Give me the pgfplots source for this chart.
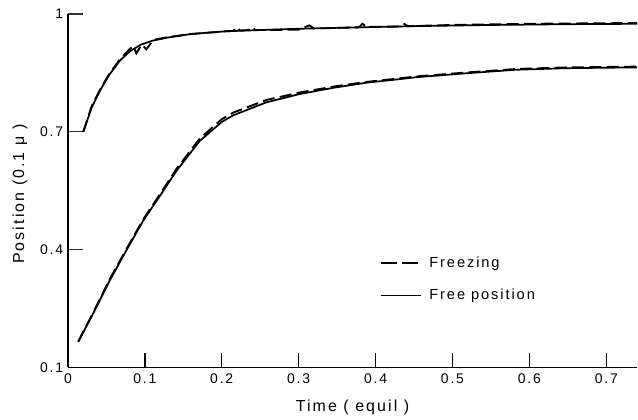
\documentclass[border=0pt]{standalone}
\usepackage{pgfplots}
\pgfplotsset{compat=1.18}
\usepackage{fontspec}
\setmainfont[LetterSpace=13]{Liberation Sans}
\begin{document}
\begin{tikzpicture}
\begin{axis}[
  scale only axis,
  width=427.5pt, height=265.5pt,
  xmin=0, xmax=0.74, ymin=0.1, ymax=1,
  axis x line*=bottom, axis y line*=left,
  axis line style={line width=1.1pt, black},
  xtick={0,0.1,0.2,0.3,0.4,0.5,0.6,0.7},
  xticklabels={0,0.1,0.2,0.3,0.4,0.5,0.6,0.7},
  ytick={0.1,0.4,0.7,1},
  yticklabels={0.1,0.4,0.7,1},
  xtick align=inside, ytick align=inside,
  major tick length=11pt,
  xtick style={draw=black, line width=1pt},
  ytick style={draw=black!80, line width=0.8pt},
  /pgf/number format/assume math mode=true,
  tick label style={font=\fontsize{10.5}{12}\selectfont},
  label style={font=\fontsize{12}{14}\selectfont},
  xticklabel style={yshift=-1pt},
  xlabel={Time ( equil )},
  ylabel={Position (0.1 μ )},
  xlabel style={at={(axis description cs:0.5,-0.113)}, anchor=center},
  ylabel style={at={(axis description cs:-0.084,0.49)}, anchor=center},
  legend style={draw=none, fill=none, at={(axis cs:0.40,0.325)}, anchor=west,
    font=\fontsize{11}{12}\selectfont, row sep=11pt,
    /tikz/every odd column/.append style={column sep=4pt}},
  legend cell align=left,
  legend image code/.code={\draw[#1] (0pt,0pt) -- (30pt,0pt);},
  clip=false,
]
\addplot[black, line width=1.4pt, dash pattern=on 9pt off 4pt, forget plot] coordinates {
(0.020,0.700) (0.031,0.766) (0.042,0.808) (0.0545,0.850) (0.0675,0.884) (0.080,0.910)
(0.085,0.918) (0.089,0.900) (0.096,0.922) (0.102,0.910) (0.111,0.934) (0.130,0.941)
(0.160,0.949) (0.206,0.956) (0.215,0.957) (0.219,0.966) (0.224,0.958) (0.235,0.959)
(0.239,0.967) (0.244,0.959) (0.300,0.960) (0.314,0.971) (0.320,0.963) (0.378,0.966)
(0.383,0.975) (0.388,0.967) (0.430,0.968) (0.436,0.976) (0.442,0.969) (0.50,0.972)
(0.60,0.975) (0.74,0.977)};
\addplot[black, line width=1.3pt, forget plot] coordinates {
(0.020,0.700) (0.031,0.762) (0.042,0.806) (0.0545,0.847) (0.0675,0.881) (0.0805,0.905)
(0.095,0.922) (0.110,0.932) (0.130,0.940) (0.160,0.949) (0.206,0.956) (0.25,0.959)
(0.293,0.962) (0.379,0.966) (0.45,0.969) (0.55,0.972) (0.65,0.974) (0.74,0.975)};
\addplot[black, line width=1.4pt, dash pattern=on 9pt off 4pt, forget plot] coordinates {
(0.0134,0.166) (0.033,0.240) (0.0545,0.325) (0.076,0.401) (0.098,0.477) (0.119,0.539)
(0.141,0.605) (0.171,0.682) (0.20,0.732) (0.215,0.749) (0.258,0.781) (0.301,0.800)
(0.345,0.815) (0.388,0.827) (0.431,0.836) (0.453,0.841) (0.518,0.851) (0.583,0.860)
(0.648,0.864) (0.74,0.866)};
\addplot[black, line width=1.3pt, forget plot] coordinates {
(0.0134,0.165) (0.033,0.238) (0.0545,0.322) (0.076,0.398) (0.098,0.474) (0.119,0.535)
(0.141,0.600) (0.171,0.676) (0.20,0.725) (0.215,0.742) (0.258,0.775) (0.301,0.796)
(0.345,0.812) (0.388,0.825) (0.431,0.834) (0.453,0.839) (0.518,0.849) (0.583,0.858)
(0.648,0.862) (0.74,0.864)};
\addlegendimage{black, line width=1.2pt, dash pattern=on 12pt off 4pt}
\addlegendentry{Freezing}
\addlegendimage{black, line width=0.9pt}
\addlegendentry{Free position}
\draw[black, line width=1.1pt]
  (axis cs:0.1,0.1) -- (axis cs:0.1,0.137)
  (axis cs:0.2,0.1) -- (axis cs:0.2,0.137)
  (axis cs:0.3,0.1) -- (axis cs:0.3,0.137)
  (axis cs:0.4,0.1) -- (axis cs:0.4,0.137)
  (axis cs:0.5,0.1) -- (axis cs:0.5,0.137)
  (axis cs:0.6,0.1) -- (axis cs:0.6,0.137)
  (axis cs:0.7,0.1) -- (axis cs:0.7,0.137);
\end{axis}
\path[use as bounding box] (-51pt,-39pt) rectangle (427.5pt,276pt);
\end{tikzpicture}
\end{document}
